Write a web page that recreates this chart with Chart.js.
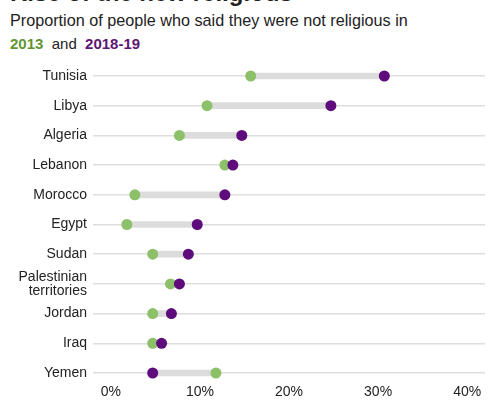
<!DOCTYPE html>
<html>
<head>
<meta charset="utf-8">
<script src="https://cdn.jsdelivr.net/npm/chart.js@4"></script>
<style>
  body { margin: 0; background: #fff; font-family: "Liberation Sans", Arial, sans-serif; }
  #wrap { position: relative; width: 500px; height: 400px; overflow: hidden; }
  #title { position: absolute; left: 10px; top: -21px; font-size: 24px; font-weight: bold; color: #222; white-space: nowrap; }
  #sub { position: absolute; left: 10px; top: 11px; font-size: 16.2px; color: #222; white-space: nowrap; }
  #key { position: absolute; left: 10px; top: 35px; font-size: 15px; color: #222; white-space: nowrap; }
  #key .g { color: #5f9632; font-weight: bold; }
  #key .p { color: #5e1675; font-weight: bold; }
  canvas { position: absolute; left: 0; top: 0; }
</style>
</head>
<body>
<div id="wrap">
  <div id="title">Rise of the new religious</div>
  <div id="sub">Proportion of people who said they were not religious in</div>
  <div id="key"><span class="g">2013</span>&nbsp; and &nbsp;<span class="p">2018-19</span></div>
  <canvas id="chart" width="500" height="400"></canvas>
</div>
<script>
// Data
const countries = ['Tunisia', 'Libya', 'Algeria', 'Lebanon', 'Morocco', 'Egypt', 'Sudan',
    ['Palestinian', 'territories'], 'Jordan', 'Iraq', 'Yemen'];
const values2013 = [15.7, 10.8, 7.7, 12.8, 2.7, 1.8, 4.7, 6.7, 4.7, 4.7, 11.8];
const values2018 = [30.7, 24.7, 14.7, 13.7, 12.8, 9.7, 8.7, 7.7, 6.8, 5.7, 4.7];
const xTicks = [0, 10, 20, 30, 40];

const green = '#8cc16a';
const purple = '#5e0b7c';

// connector ranges
const ranges = values2013.map((v, i) => [v, values2018[i]]);

new Chart(document.getElementById('chart'), {
    type: 'bar',
    data: {
        labels: countries,
        datasets: [
            {
                type: 'line',
                label: '2018-19',
                data: values2018,
                showLine: false,
                pointRadius: 5.5,
                pointBackgroundColor: purple,
                pointBorderWidth: 0,
                clip: false,
                order: 0
            },
            {
                type: 'line',
                label: '2013',
                data: values2013,
                showLine: false,
                pointRadius: 5.5,
                pointBackgroundColor: green,
                pointBorderWidth: 0,
                clip: false,
                order: 1
            },
            {
                label: 'range',
                data: ranges,
                backgroundColor: '#dcdcdc',
                barThickness: 6,
                borderSkipped: false,
                clip: false,
                order: 2
            }
        ]
    },
    options: {
        indexAxis: 'y',
        responsive: false,
        animation: false,
        layout: { padding: { top: 76, right: 15, bottom: 0, left: 0 } },
        plugins: {
            legend: { display: false },
            tooltip: { enabled: false }
        },
        scales: {
            x: {
                min: -2,
                max: 42,
                afterBuildTicks: (scale) => { scale.ticks = xTicks.map(v => ({ value: v })); },
                afterFit: (scale) => { scale.height = 27; },
                grid: { display: false },
                border: { display: false },
                ticks: {
                    callback: (v) => v + '%',
                    color: '#222',
                    padding: 3,
                    maxRotation: 0,
                    font: { family: '"Liberation Sans", Arial, sans-serif', size: 14 }
                }
            },
            y: {
                offset: false,
                afterFit: (scale) => { scale.width = 93; },
                grid: { color: '#dedede', lineWidth: 1.5, drawTicks: false, offset: false },
                border: { display: false },
                ticks: {
                    autoSkip: false,
                    color: '#222',
                    padding: 6,
                    font: { family: '"Liberation Sans", Arial, sans-serif', size: 14, lineHeight: 1.0 }
                }
            }
        }
    }
});
</script>
</body>
</html>
